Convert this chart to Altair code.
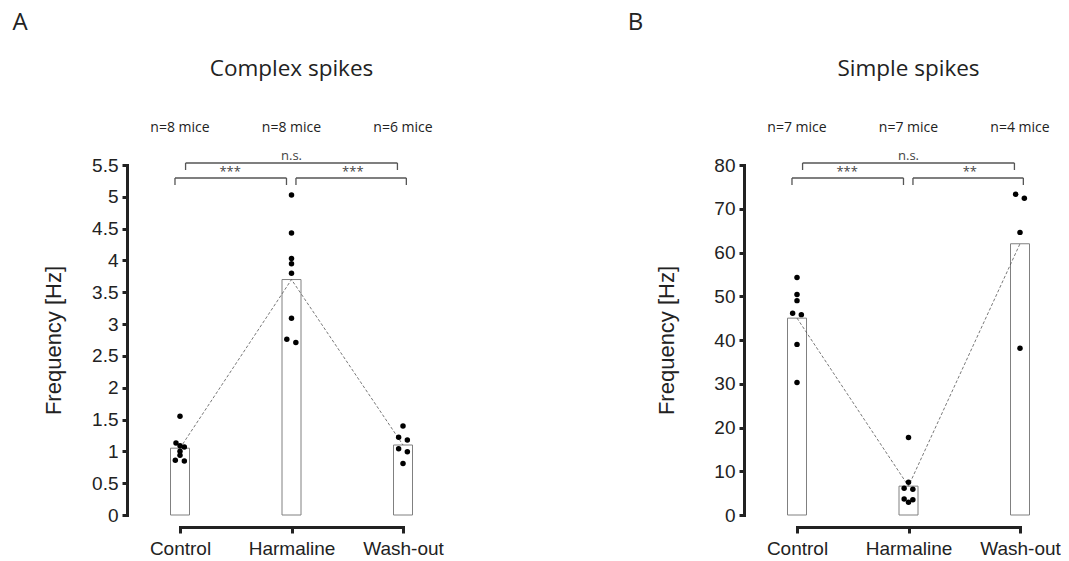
import altair as alt
import pandas as pd

categories = ["Control", "Harmaline", "Wash-out"]

# Panel A: complex spikes
cs_means = [1.05, 3.70, 1.10]
cs_control = [1.55, 1.13, 1.09, 1.07, 1.00, 0.94, 0.86, 0.85]
cs_control_dx = [0, -0.036, 0, 0.039, 0, 0, -0.042, 0.039]
cs_harm = [5.03, 4.43, 4.03, 3.95, 3.80, 3.09, 2.76, 2.71]
cs_harm_dx = [0, 0, 0, 0, 0, 0, -0.042, 0.039]
cs_wash = [1.40, 1.22, 1.18, 1.04, 0.995, 0.81]
cs_wash_dx = [0, -0.039, 0.039, -0.039, 0.039, 0]
cs_n = ["n=8 mice", "n=8 mice", "n=6 mice"]
cs_sig = ["***", "***", "n.s."]

# Panel B: simple spikes
ss_means = [45.0, 6.6, 62.0]
ss_control = [54.3, 50.4, 49.0, 46.1, 45.8, 39.0, 30.3]
ss_control_dx = [0, 0, 0, -0.039, 0.039, 0, 0]
ss_harm = [17.7, 7.5, 6.1, 5.9, 3.66, 3.5, 2.9]
ss_harm_dx = [0, 0, -0.039, 0.039, -0.039, 0.039, 0]
ss_wash = [73.3, 72.4, 64.6, 38.1]
ss_wash_dx = [-0.039, 0.039, 0, 0]
ss_n = ["n=7 mice", "n=7 mice", "n=4 mice"]
ss_sig = ["***", "**", "n.s."]

AXIS_FONT = "Liberation Sans"
TEXT_FONT = "Open Sans"
DARK = "#222222"


def panel(letter, title, means, groups, offsets, nlabels, sig, ymax, ystep, px_per_unit, unit_px, tpad):
    def yd(px_above_zero):
        return px_above_zero / px_per_unit

    bars = pd.DataFrame({"idx": [0, 1, 2], "mean": means, "cat": categories})
    rows = []
    for i, (vals, dxs) in enumerate(zip(groups, offsets)):
        for v, d in zip(vals, dxs):
            rows.append({"x": i + d, "y": v})
    pts = pd.DataFrame(rows)

    lo_top, lo_bot = yd(337), yd(330)
    up_top, up_bot = yd(352), yd(345)
    hseg = pd.DataFrame({
        "x": [-0.045, 1.04, 0.05],
        "x2": [0.955, 2.03, 1.95],
        "y": [lo_top, lo_top, up_top],
    })
    vseg = pd.DataFrame({
        "x": [-0.045, 0.955, 1.04, 2.03, 0.05, 1.95],
        "y": [lo_top, lo_top, lo_top, lo_top, up_top, up_top],
        "y2": [lo_bot, lo_bot, lo_bot, lo_bot, up_bot, up_bot],
    })
    sigdf = pd.DataFrame({"x": [0.45, 1.55, 1.0], "y": [yd(343), yd(343), yd(359)], "t": sig})
    ndf = pd.DataFrame({"x": [0, 1, 2], "y": [yd(387)] * 3, "t": nlabels})
    titledf = pd.DataFrame({"x": [1.0], "y": [yd(446)], "t": [title]})
    letterdf = pd.DataFrame({"x": [-160 / unit_px], "y": [yd(492)], "t": [letter]})

    xscale = alt.Scale(domain=[0, 2], nice=False, zero=False, padding=0)
    yscale = alt.Scale(domain=[0, ymax], nice=False, padding=0)
    yvals = [round(ystep * k, 2) for k in range(int(round(ymax / ystep)) + 1)]

    xaxis = alt.Axis(values=[0, 1, 2], title=None,
                     labelExpr="['Control','Harmaline','Wash-out'][datum.value]",
                     offset=12, tickSize=6, labelPadding=6, labelFontSize=19,
                     labelFont=AXIS_FONT, labelFlush=False)
    yaxis = alt.Axis(values=yvals, title="Frequency [Hz]", offset=53, tickSize=5,
                     labelPadding=4, labelFontSize=19, labelFont=AXIS_FONT,
                     labelOverlap=False, labelFlush=False,
                     titleFont=AXIS_FONT, titleFontSize=22, titleFontWeight="normal",
                     titlePadding=tpad, format=".1~f")

    def X(f):
        return alt.X(f, scale=xscale, axis=xaxis)

    def Y(f):
        return alt.Y(f, scale=yscale, axis=yaxis)

    bar = alt.Chart(bars).mark_bar(size=19, fill="white", stroke="#808080", strokeWidth=1).encode(
        x=X("idx:Q"), y=Y("mean:Q"))
    line = alt.Chart(bars).mark_line(color="#555555", strokeWidth=0.8, strokeDash=[3, 2]).encode(
        x=X("idx:Q"), y=Y("mean:Q"))
    dots = alt.Chart(pts).mark_circle(size=30, color="black", opacity=1).encode(
        x=X("x:Q"), y=Y("y:Q"))
    hr = alt.Chart(hseg).mark_rule(color="#555555", strokeWidth=1.3).encode(
        x=X("x:Q"), x2="x2:Q", y=Y("y:Q"))
    vr = alt.Chart(vseg).mark_rule(color="#555555", strokeWidth=1.3).encode(
        x=X("x:Q"), y=Y("y:Q"), y2="y2:Q")
    sig_t = alt.Chart(sigdf).mark_text(font=TEXT_FONT, fontSize=13, color="#444444").encode(
        x=X("x:Q"), y=Y("y:Q"), text="t:N")
    n_t = alt.Chart(ndf).mark_text(font=TEXT_FONT, fontSize=14, color=DARK).encode(
        x=X("x:Q"), y=Y("y:Q"), text="t:N")
    ttl = alt.Chart(titledf).mark_text(font=TEXT_FONT, fontSize=22.5, color=DARK).encode(
        x=X("x:Q"), y=Y("y:Q"), text="t:N")
    let = alt.Chart(letterdf).mark_text(font=TEXT_FONT, fontSize=24, color=DARK).encode(
        x=X("x:Q"), y=Y("y:Q"), text="t:N")

    return alt.layer(bar, line, dots, hr, vr, sig_t, n_t, ttl, let).properties(
        width=223, height=350)


pA = panel("A", "Complex spikes", cs_means, [cs_control, cs_harm, cs_wash],
           [cs_control_dx, cs_harm_dx, cs_wash_dx], cs_n, cs_sig, 5.5, 0.5, 350 / 5.5, 111.5, 26)
pB = panel("B", "Simple spikes", ss_means, [ss_control, ss_harm, ss_wash],
           [ss_control_dx, ss_harm_dx, ss_wash_dx], ss_n, ss_sig, 80, 10, 350 / 80, 110.5, 35)

chart = alt.hconcat(pA, pB, spacing=183).properties(
    padding={"left": 12, "top": 10, "right": 0, "bottom": 0},
    background="white",
).configure_view(stroke=None).configure_axis(
    grid=False, domainColor=DARK, domainWidth=3, tickColor=DARK, tickWidth=3,
    labelColor=DARK, titleColor=DARK, domainCap="square",
)

chart.save("out.html", embed_options={"renderer": "svg", "actions": False})
